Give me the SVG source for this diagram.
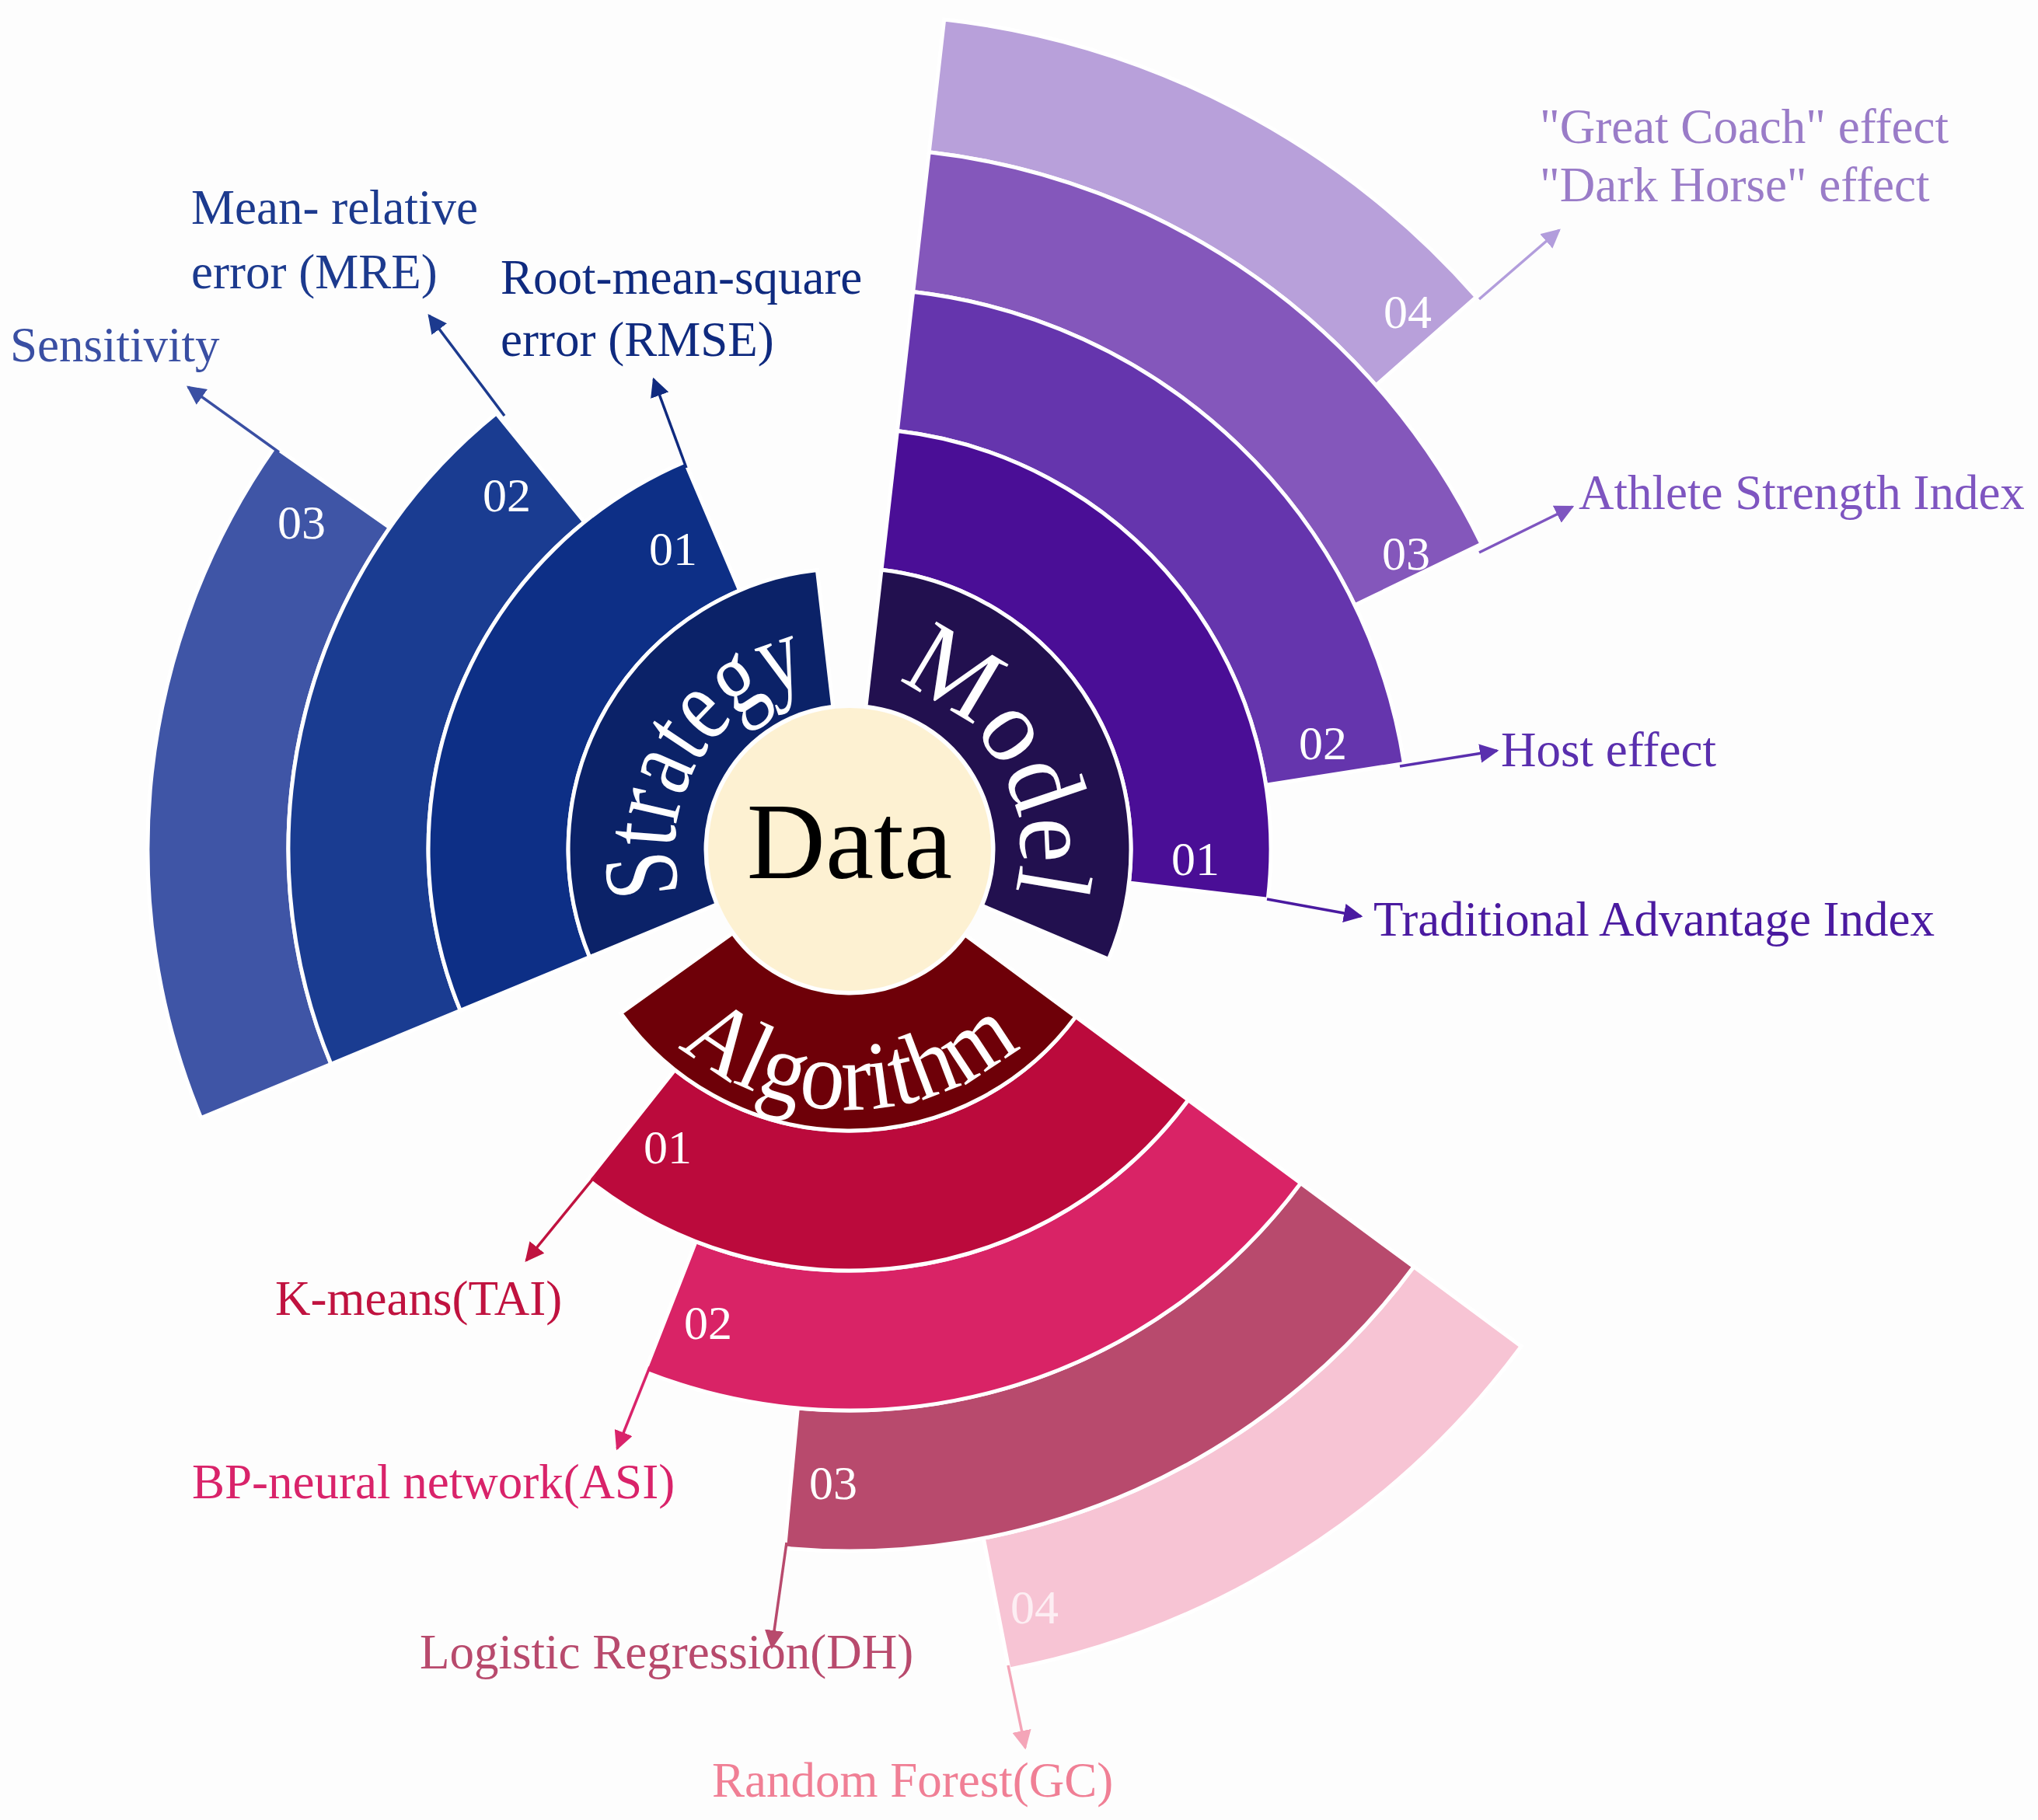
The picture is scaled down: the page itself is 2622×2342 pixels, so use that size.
<svg xmlns="http://www.w3.org/2000/svg" width="2622" height="2342" viewBox="0 0 2622 2342">
<style>
.seg{stroke:#ffffff;stroke-width:5;stroke-linejoin:miter}
.num{font-family:"Liberation Serif",serif;font-size:62px;fill:#ffffff;text-anchor:middle}
.lbl{font-family:"Liberation Serif",serif;font-size:63px}
.hub{font-family:"Liberation Serif",serif;fill:#ffffff}
.con{fill:none;stroke-width:3.5}
</style>
<defs>
<marker id="m1" viewBox="0 0 10 10" refX="9" refY="5" markerWidth="7" markerHeight="7" orient="auto" markerUnits="strokeWidth"><path d="M0,0L10,5L0,10z" fill="#3a4fa3"/></marker>
<marker id="m2" viewBox="0 0 10 10" refX="9" refY="5" markerWidth="7" markerHeight="7" orient="auto" markerUnits="strokeWidth"><path d="M0,0L10,5L0,10z" fill="#1c3a8e"/></marker>
<marker id="m3" viewBox="0 0 10 10" refX="9" refY="5" markerWidth="7" markerHeight="7" orient="auto" markerUnits="strokeWidth"><path d="M0,0L10,5L0,10z" fill="#0f2a7f"/></marker>
<marker id="m4" viewBox="0 0 10 10" refX="9" refY="5" markerWidth="7" markerHeight="7" orient="auto" markerUnits="strokeWidth"><path d="M0,0L10,5L0,10z" fill="#b29ddc"/></marker>
<marker id="m5" viewBox="0 0 10 10" refX="9" refY="5" markerWidth="7" markerHeight="7" orient="auto" markerUnits="strokeWidth"><path d="M0,0L10,5L0,10z" fill="#7e55c0"/></marker>
<marker id="m6" viewBox="0 0 10 10" refX="9" refY="5" markerWidth="7" markerHeight="7" orient="auto" markerUnits="strokeWidth"><path d="M0,0L10,5L0,10z" fill="#5a2fae"/></marker>
<marker id="m7" viewBox="0 0 10 10" refX="9" refY="5" markerWidth="7" markerHeight="7" orient="auto" markerUnits="strokeWidth"><path d="M0,0L10,5L0,10z" fill="#4a1aa0"/></marker>
<marker id="m8" viewBox="0 0 10 10" refX="9" refY="5" markerWidth="7" markerHeight="7" orient="auto" markerUnits="strokeWidth"><path d="M0,0L10,5L0,10z" fill="#c0123f"/></marker>
<marker id="m9" viewBox="0 0 10 10" refX="9" refY="5" markerWidth="7" markerHeight="7" orient="auto" markerUnits="strokeWidth"><path d="M0,0L10,5L0,10z" fill="#d9236a"/></marker>
<marker id="m10" viewBox="0 0 10 10" refX="9" refY="5" markerWidth="7" markerHeight="7" orient="auto" markerUnits="strokeWidth"><path d="M0,0L10,5L0,10z" fill="#b84a6d"/></marker>
<marker id="m11" viewBox="0 0 10 10" refX="9" refY="5" markerWidth="7" markerHeight="7" orient="auto" markerUnits="strokeWidth"><path d="M0,0L10,5L0,10z" fill="#f4a5b8"/></marker>
<path id="pS" d="M881.6,1170 A220,220 0 0 1 1061.7,875"/>
<path id="pM" d="M1123.6,875.1 A220,220 0 0 1 1297,1175.4"/>
<path id="pA" d="M829,1299.3 A335,335 0 0 0 1357,1299.3"/>
</defs>
<rect width="2622" height="2342" fill="#fdfdfd"/>

<g id="strategy">
<path class="seg" fill="#3f55a6" d="M258.7,1438.6 A903,903 0 0 1 353.3,575 L501.5,678.9 A722,722 0 0 0 425.9,1369.3 Z"/>
<path class="seg" fill="#1a3c91" d="M425.9,1369.3 A722,722 0 0 1 638.6,531.9 L751.9,671.8 A542,542 0 0 0 592.3,1300.4 Z"/>
<path class="seg" fill="#0d2f86" d="M592.3,1300.4 A542,542 0 0 1 881.2,594.1 L951.6,759.8 A362,362 0 0 0 758.6,1231.5 Z"/>
<path class="seg" fill="#0b2268" d="M758.6,1231.5 A362,362 0 0 1 1051.4,733.4 L1071.7,909.2 A185,185 0 0 0 922.1,1163.8 Z"/>
<text class="hub" font-size="136"><textPath href="#pS" startOffset="50%" text-anchor="middle" textLength="355" lengthAdjust="spacingAndGlyphs">Strategy</textPath></text>
<text class="num" x="388" y="693">03</text>
<text class="num" x="652" y="658">02</text>
<text class="num" x="866" y="727">01</text>
<text class="lbl" x="13" y="465" fill="#3a4fa3">Sensitivity</text>
<text class="lbl" x="246" y="288" fill="#1c3a8e">Mean- relative</text>
<text class="lbl" x="246" y="371" fill="#1c3a8e">error (MRE)</text>
<text class="lbl" x="644" y="378" fill="#0f2a7f">Root-mean-square</text>
<text class="lbl" x="644" y="458" fill="#0f2a7f">error (RMSE)</text>
</g>

<g id="model">
<path class="seg" fill="#b8a0da" d="M1214.7,24.9 A1075,1075 0 0 1 1899.4,382.1 L1770.3,495.8 A903,903 0 0 0 1195.2,195.8 Z"/>
<path class="seg" fill="#8457bb" d="M1195.2,195.8 A903,903 0 0 1 1906,700 L1743,778.8 A722,722 0 0 0 1174.7,375.6 Z"/>
<path class="seg" fill="#6535ad" d="M1174.7,375.6 A722,722 0 0 1 1806.5,982.5 L1628.6,1010.1 A542,542 0 0 0 1154.4,554.5 Z"/>
<path class="seg" fill="#4a0e96" d="M1154.4,554.5 A542,542 0 0 1 1631.2,1157.2 L1452.5,1135.9 A362,362 0 0 0 1134,733.3 Z"/>
<path class="seg" fill="#22104f" d="M1134,733.3 A362,362 0 0 1 1426.2,1234.4 L1263.3,1165.3 A185,185 0 0 0 1113.9,909.2 Z"/>
<text class="hub" font-size="136"><textPath href="#pM" startOffset="50%" text-anchor="middle" textLength="340" lengthAdjust="spacingAndGlyphs">Model</textPath></text>
<text class="num" x="1811" y="422">04</text>
<text class="num" x="1809" y="733">03</text>
<text class="num" x="1702" y="977">02</text>
<text class="num" x="1538" y="1126">01</text>
<text class="lbl" x="1981" y="184" fill="#9a7cc8">"Great Coach" effect</text>
<text class="lbl" x="1981" y="259" fill="#9a7cc8">"Dark Horse" effect</text>
<text class="lbl" x="2031" y="655" fill="#7e55c0">Athlete Strength Index</text>
<text class="lbl" x="1931" y="986" fill="#5a2fae">Host effect</text>
<text class="lbl" x="1767" y="1204" fill="#4a1aa0">Traditional Advantage Index</text>
</g>

<g id="algorithm">
<path class="seg" fill="#f7c4d4" d="M1957.2,1732.4 A1075,1075 0 0 1 1298.1,2148.2 L1265.3,1979.4 A903,903 0 0 0 1818.9,1630.1 Z"/>
<path class="seg" fill="#b84a6d" d="M1818.9,1630.1 A903,903 0 0 1 1009.6,1992.1 L1026.3,1811.9 A722,722 0 0 0 1673.4,1522.4 Z"/>
<path class="seg" fill="#d92366" d="M1673.4,1522.4 A722,722 0 0 1 829.5,1765.3 L895.2,1597.7 A542,542 0 0 0 1528.7,1415.4 Z"/>
<path class="seg" fill="#bb0a3c" d="M1528.7,1415.4 A542,542 0 0 1 756.4,1517.8 L868.2,1376.7 A362,362 0 0 0 1384,1308.3 Z"/>
<path class="seg" fill="#6e0008" d="M1384,1308.3 A362,362 0 0 1 798.7,1303.7 L942.6,1200.7 A185,185 0 0 0 1241.7,1203 Z"/>
<text class="hub" font-size="125"><textPath href="#pA" startOffset="50%" text-anchor="middle" textLength="480" lengthAdjust="spacingAndGlyphs">Algorithm</textPath></text>
<text class="num" x="859" y="1497">01</text>
<text class="num" x="911" y="1723">02</text>
<text class="num" x="1072" y="1929">03</text>
<text class="num" x="1331" y="2089" style="fill:#fdeef3">04</text>
<text class="lbl" x="354" y="1692" fill="#c0123f">K-means(TAI)</text>
<text class="lbl" x="247" y="1928" fill="#d9236a">BP-neural network(ASI)</text>
<text class="lbl" x="540" y="2147" fill="#b84a6d">Logistic Regression(DH)</text>
<text class="lbl" x="916" y="2312" fill="#f07f95">Random Forest(GC)</text>
</g>

<g id="data">
<circle cx="1093" cy="1093" r="182" fill="#fdf1d2"/>
<text x="1093" y="1130" font-family="Liberation Serif,serif" font-size="140" text-anchor="middle" fill="#000000">Data</text>
</g>

<g id="connectors">
<line class="con" stroke="#3a4fa3" x1="359" y1="582" x2="242" y2="498" marker-end="url(#m1)"/>
<line class="con" stroke="#1c3a8e" x1="649" y1="535" x2="552" y2="406" marker-end="url(#m2)"/>
<line class="con" stroke="#0f2a7f" x1="883" y1="602" x2="841" y2="488" marker-end="url(#m3)"/>
<line class="con" stroke="#b29ddc" x1="1903" y1="385" x2="2006" y2="296" marker-end="url(#m4)"/>
<line class="con" stroke="#7e55c0" x1="1903" y1="711" x2="2023" y2="652" marker-end="url(#m5)"/>
<line class="con" stroke="#5a2fae" x1="1801" y1="986" x2="1926" y2="966" marker-end="url(#m6)"/>
<line class="con" stroke="#4a1aa0" x1="1630" y1="1157" x2="1751" y2="1179" marker-end="url(#m7)"/>
<line class="con" stroke="#c0123f" x1="766" y1="1513" x2="677" y2="1622" marker-end="url(#m8)"/>
<line class="con" stroke="#d9236a" x1="836" y1="1759" x2="794" y2="1864" marker-end="url(#m9)"/>
<line class="con" stroke="#b84a6d" x1="1012" y1="1985" x2="993" y2="2120" marker-end="url(#m10)"/>
<line class="con" stroke="#f4a5b8" x1="1297" y1="2143" x2="1319" y2="2249" marker-end="url(#m11)"/>
</g>
</svg>
